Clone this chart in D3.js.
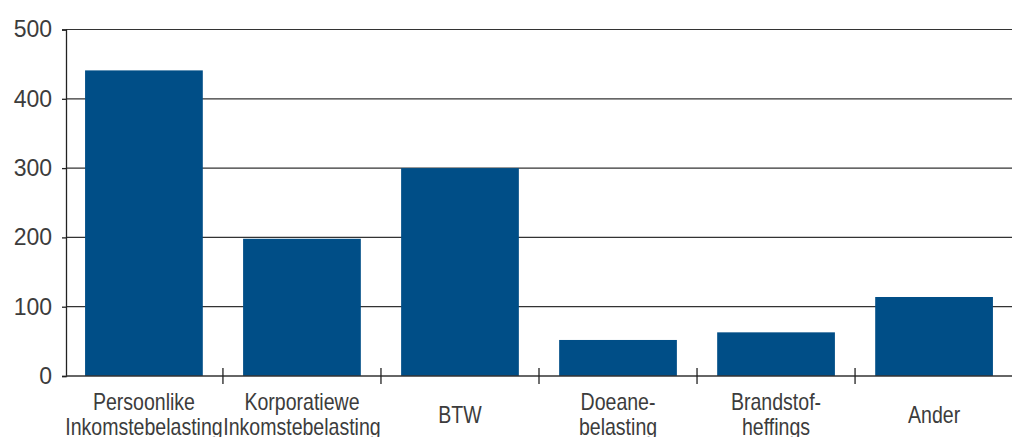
<!DOCTYPE html>
<html>
<head>
<meta charset="utf-8">
<script src="https://cdn.jsdelivr.net/npm/d3@7"></script>
<style>
html,body{margin:0;padding:0;background:#fff;}
svg{display:block;}
</style>
</head>
<body>
<svg id="chart" width="1012" height="437"></svg>
<script>
const categories = ["Persoonlike\nInkomstebelasting","Korporatiewe\nInkomstebelasting","BTW","Doeane-\nbelasting","Brandstof-\nheffings","Ander"];
const values = [441, 198, 300, 52, 63, 114];
const yTicks = [0, 100, 200, 300, 400, 500];

const svg = d3.select("#chart");
const x = d3.scaleBand().domain(categories).range([65, 1013]).paddingInner(0.255).paddingOuter(0.127);
const y = d3.scaleLinear().domain([0, 500]).range([376, 29.5]);

// gridlines
svg.append("g").selectAll("line").data(yTicks.filter(d => d > 0)).join("line")
  .attr("x1", 66).attr("x2", 1012)
  .attr("y1", d => y(d)).attr("y2", d => y(d))
  .attr("stroke", "#333").attr("stroke-width", 1.2);

// bars
svg.append("g").selectAll("rect").data(values).join("rect")
  .attr("x", (d, i) => x(categories[i]))
  .attr("width", x.bandwidth())
  .attr("y", d => y(d))
  .attr("height", d => y(0) - y(d))
  .attr("fill", "#004e87");

// y axis
const yAxis = d3.axisLeft(y).tickValues(yTicks).tickSize(4).tickPadding(10).tickFormat(d3.format("d"));
const gy = svg.append("g").attr("transform", "translate(66,0)").call(yAxis);
gy.select(".domain").attr("stroke", "#222").attr("stroke-width", 1.3);
gy.selectAll(".tick line").attr("stroke", "#222").attr("stroke-width", 1.3);
gy.selectAll(".tick text").attr("fill", "#3c3c3c")
  .style("font-family", "'Liberation Sans', Arial, sans-serif").style("font-size", "23px");

// x axis baseline
svg.append("line").attr("x1", 66).attr("x2", 1012).attr("y1", y(0)).attr("y2", y(0))
  .attr("stroke", "#333").attr("stroke-width", 1.3);

// x ticks at band boundaries
const step = x.step();
const bounds = categories.slice(1).map(c => x(c) - x.paddingInner() * step / 2);
svg.append("g").selectAll("line").data(bounds).join("line")
  .attr("x1", d => d).attr("x2", d => d)
  .attr("y1", y(0) - 8).attr("y2", y(0) + 8)
  .attr("stroke", "#222").attr("stroke-width", 1.3);

// x labels (horizontally condensed to mimic the narrow original typeface)
const lab = svg.append("g").selectAll("text").data(categories).join("text")
  .attr("text-anchor", "middle")
  .attr("fill", "#3c3c3c")
  .style("font-family", "'Liberation Sans', Arial, sans-serif")
  .style("font-size", "23px")
  .attr("transform", d => `translate(${x(d) + x.bandwidth() / 2},${d.includes("\n") ? 410 : 423}) scale(0.85,1)`);
lab.each(function(d) {
  const parts = d.split("\n");
  const t = d3.select(this);
  parts.forEach((p, i) => {
    t.append("tspan").attr("x", 0).attr("dy", i === 0 ? 0 : 25).text(p);
  });
});
</script>
</body>
</html>
